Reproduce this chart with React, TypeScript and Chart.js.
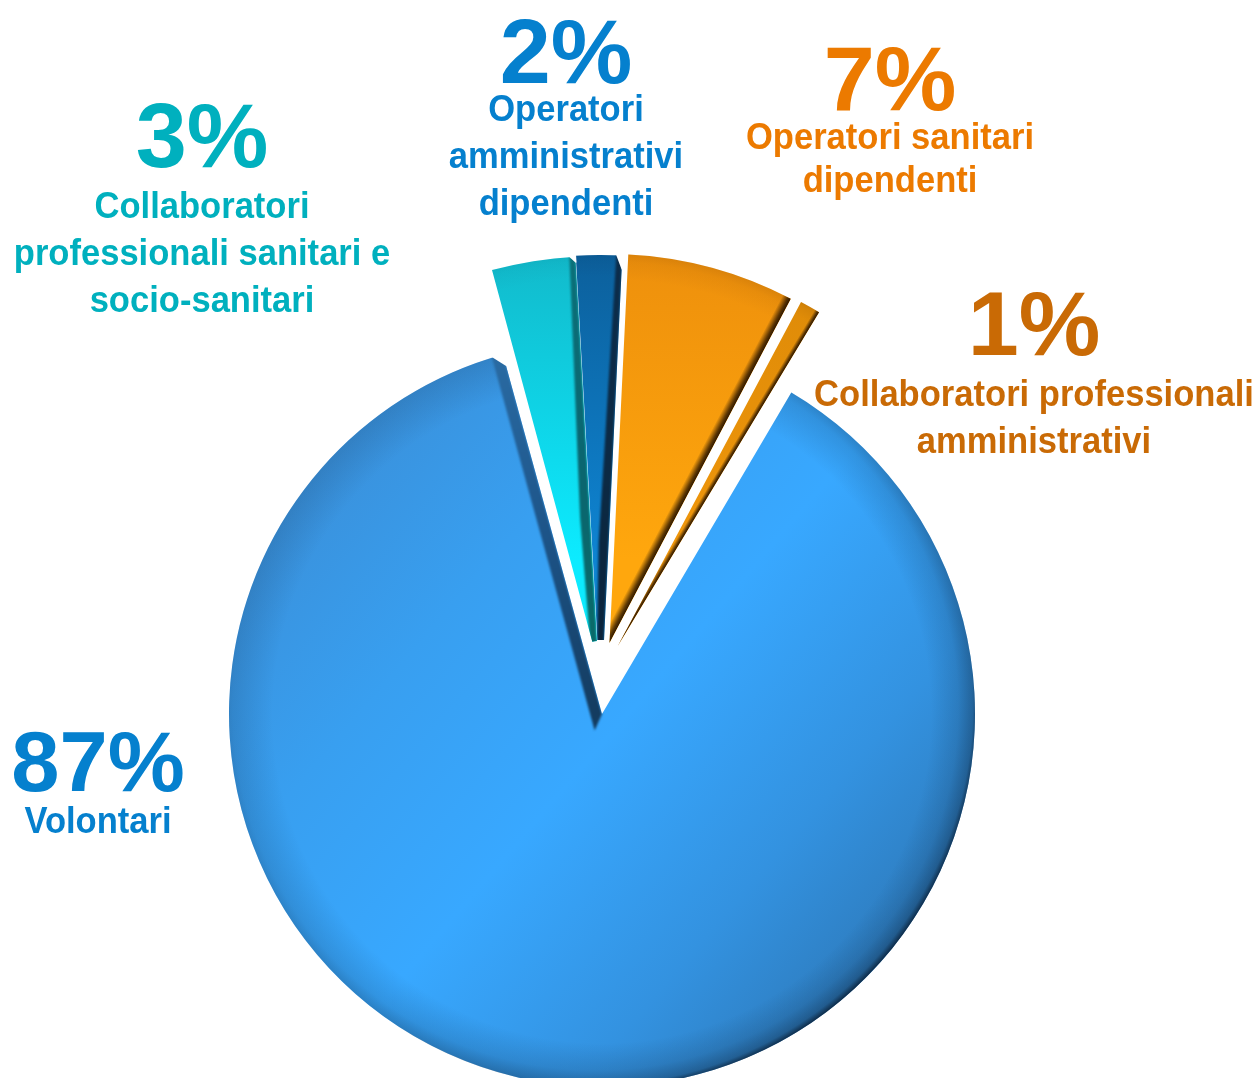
import React, { useEffect, useRef } from "react";
import { Chart, registerables } from "chart.js";

Chart.register(...registerables);

// Data
const categories = [
  ["Collaboratori", "professionali sanitari e", "socio-sanitari"],
  ["Operatori", "amministrativi", "dipendenti"],
  ["Operatori sanitari", "dipendenti"],
  ["Collaboratori professionali", "amministrativi"],
  ["Volontari"],
];
const sliceValues = [3.3, 1.65, 6.95, 0.85, 87.25];
const percentLabels = ["3%", "2%", "7%", "1%", "87%"];

// Styling
const FONT = '"Liberation Sans", Arial, sans-serif';
const labelColors = ["#00B0BE", "#0580CE", "#EC7A00", "#C96A05", "#0580CE"];
const labelLayout = [
  { x: 202, pctY: 136, pctSize: 90, lines: [206, 253, 300], size: 36 },
  { x: 566, pctY: 52, pctSize: 90, lines: [109, 156, 203], size: 36 },
  { x: 890, pctY: 79, pctSize: 90, lines: [137, 180], size: 36 },
  { x: 1034, pctY: 324, pctSize: 90, lines: [394, 441], size: 36 },
  { x: 98, pctY: 761, pctSize: 85, lines: [821], size: 36 },
];
const TEXT_SQUEEZE = 0.96;
const PCT_STRETCH = 1.02;
const sliceLayout = [
  { x: 598.3, y: 664, r: 408, inner: 23, turn: 0.2 },
  { x: 601, y: 704, r: 449, inner: 64, turn: 0.2 },
  { x: 609.5, y: 643, r: 389, inner: 0, turn: 0.25 },
  { x: 617.7, y: 646.2, r: 390, inner: 0, turn: 0.5 },
  { x: 602, y: 714, r: 373, inner: 0, turn: -0.1 },
];
const sliceGradients = [
  { from: [0, 255], to: [0, 560], stops: ["#12BACB", "#0CEBFF"] },
  { from: [0, 255], to: [0, 560], stops: ["#0C609C", "#0E84D2"] },
  { from: [0, 255], to: [0, 560], stops: ["#EE900C", "#FFA70D"] },
  { from: [800, 310], to: [630, 640], stops: ["#E08C08", "#F59A0C"] },
  { from: [300, 470], to: [920, 1000], stops: ["#3A90DA", "#389FF0", "#38A8FF", "#3392E0", "#2C74B2"] },
];
const vignettes = [
  { depth: 22, color: "0,60,80", a: 0.22, shift: 3 },
  { depth: 22, color: "0,25,60", a: 0.3, shift: 3 },
  { depth: 26, color: "110,55,0", a: 0.45, shift: 3 },
  { depth: 14, color: "90,45,0", a: 0.5, shift: 3 },
  { depth: 44, color: "10,32,55", a: 0.92, shift: 12 },
];
const edgeStrips = [
  { w: [6, 10, 7], tail: 0, colors: ["#0C7079", "#0A6670", "#0A6B68"], notch: [6, 6], guard: 0.8 },
  { w: [6, 10, 7], tail: 0, colors: ["#0C2D4B", "#0C2A44", "#0B2238"], notch: [14, 6], guard: 1.5 },
  { w: [9, 9, 9], tail: 0, fade: "40,20,0" },
  { w: [5, 5, 5], tail: 0, fade: "40,20,0" },
  { w: [11.5, 11.5, 11.5], tail: 14, colors: ["#2A6BA3", "#1D5488", "#143C60"], notch: [12, 11], guard: 2 },
];

const toRad = (d: number) => (d * Math.PI) / 180;

const piePlugin = {
  id: "sliceFinish",
  afterDatasetsUpdate(chart: any) {
    chart.getDatasetMeta(0).data.forEach((arc: any, i: number) => {
      const l = sliceLayout[i];
      arc.x = l.x;
      arc.y = l.y;
      arc.outerRadius = l.r;
      arc.innerRadius = l.inner;
      arc.startAngle += toRad(l.turn);
      arc.endAngle += toRad(l.turn);
    });
  },
  afterDatasetsDraw(chart: any) {
    const ctx = chart.ctx as CanvasRenderingContext2D;
    chart.getDatasetMeta(0).data.forEach((arc: any, i: number) => {
      const { x, y, outerRadius: r, innerRadius: inner, startAngle, endAngle } = arc;
      ctx.save();
      ctx.beginPath();
      if (inner > 0) {
        ctx.arc(x, y, inner, endAngle, startAngle, true);
      } else {
        ctx.moveTo(x, y);
      }
      ctx.arc(x, y, r, startAngle, endAngle);
      ctx.closePath();
      ctx.clip();

      const v = vignettes[i];
      const g = ctx.createRadialGradient(x, y, r - v.depth, x - v.shift, y - v.shift, r + v.shift * 1.45);
      g.addColorStop(0, `rgba(${v.color},0)`);
      g.addColorStop(0.55, `rgba(${v.color},${v.a * 0.16})`);
      g.addColorStop(0.85, `rgba(${v.color},${v.a * 0.4})`);
      g.addColorStop(1, `rgba(${v.color},${v.a})`);
      ctx.fillStyle = g;
      ctx.fillRect(0, 0, chart.width, chart.height);

      const s = edgeStrips[i];
      const ux = Math.cos(endAngle);
      const uy = Math.sin(endAngle);
      const nx = Math.sin(endAngle);
      const ny = -Math.cos(endAngle);
      const at = (t: number, w: number) => [x + ux * t + nx * w, y + uy * t + ny * w];
      const p = [
        at(0, 0),
        at(r, 0),
        at(r, s.w[0]),
        at(r * 0.36, s.w[1]),
        at(inner, s.w[2]),
        at(-s.tail, s.w[2]),
      ];
      let fill: CanvasGradient;
      if (s.fade) {
        const a0 = at(0, 0);
        const a1 = at(0, s.w[0]);
        fill = ctx.createLinearGradient(a0[0], a0[1], a1[0], a1[1]);
        fill.addColorStop(0, `rgba(${s.fade},0.98)`);
        fill.addColorStop(0.35, `rgba(${s.fade},0.75)`);
        fill.addColorStop(1, `rgba(${s.fade},0)`);
      } else {
        const o = at(r, 0);
        fill = ctx.createLinearGradient(o[0], o[1], x, y);
        s.colors!.forEach((c, k) => fill.addColorStop(k / (s.colors!.length - 1), c));
      }
      ctx.save();
      if (!s.fade) ctx.filter = "blur(0.8px)";
      ctx.beginPath();
      p.forEach(([px, py], k) => (k ? ctx.lineTo(px, py) : ctx.moveTo(px, py)));
      ctx.closePath();
      ctx.fillStyle = fill;
      ctx.fill();
      ctx.restore();
      ctx.restore();

      // The bevelled corner is cut outside the clip, so no antialiased outline is left behind.
      if (s.notch) {
        const [along, across] = s.notch;
        const c0 = at(r + 5, -s.guard!);
        const c1 = at(r - along, -s.guard!);
        const c2 = at(r - along, 0);
        const c3 = at(r + 5, (across * (along + 5)) / along);
        ctx.save();
        ctx.beginPath();
        ctx.moveTo(c0[0], c0[1]);
        ctx.lineTo(c1[0], c1[1]);
        ctx.lineTo(c2[0], c2[1]);
        ctx.lineTo(c3[0], c3[1]);
        ctx.closePath();
        ctx.fillStyle = "#ffffff";
        ctx.fill();
        ctx.restore();
      }
    });
  },
};

export default function App() {
  const ref = useRef<HTMLCanvasElement>(null);
  useEffect(() => {
    const chart = new Chart(ref.current!, {
      type: "pie",
      data: {
        labels: categories.map((c) => c.join(" ")),
        datasets: [
          {
            data: sliceValues,
            borderWidth: 0,
            backgroundColor: (c: any) => {
              const g = sliceGradients[c.dataIndex];
              if (!g) return "#38A8FF";
              const grad = c.chart.ctx.createLinearGradient(g.from[0], g.from[1], g.to[0], g.to[1]);
              g.stops.forEach((col, k) => grad.addColorStop(k / (g.stops.length - 1), col));
              return grad;
            },
          },
        ],
      },
      options: {
        animation: false,
        responsive: false,
        rotation: -15.3,
        layout: { padding: 0 },
        plugins: { legend: { display: false }, tooltip: { enabled: false } },
      },
      plugins: [piePlugin],
    } as any);
    return () => chart.destroy();
  }, []);

  return (
    <div style={{ position: "fixed", left: 0, top: 0, width: 1257, height: 1078, overflow: "hidden", background: "#fff", fontFamily: FONT }}>
      <canvas ref={ref} width={1257} height={1078} style={{ position: "absolute", left: 0, top: 0 }} />
      {labelLayout.map((l, i) => (
        <React.Fragment key={i}>
          <div style={{ position: "absolute", left: l.x, top: l.pctY, transform: `translate(-50%,-50%) scaleX(${PCT_STRETCH})`, fontSize: l.pctSize, fontWeight: 700, color: labelColors[i], lineHeight: 1, whiteSpace: "nowrap" }}>
            {percentLabels[i]}
          </div>
          {categories[i].map((t, k) => (
            <div key={k} style={{ position: "absolute", left: l.x, top: l.lines[k], transform: `translate(-50%,-50%) scaleX(${TEXT_SQUEEZE})`, fontSize: l.size, fontWeight: 700, color: labelColors[i], lineHeight: 1, whiteSpace: "nowrap" }}>
              {t}
            </div>
          ))}
        </React.Fragment>
      ))}
    </div>
  );
}
